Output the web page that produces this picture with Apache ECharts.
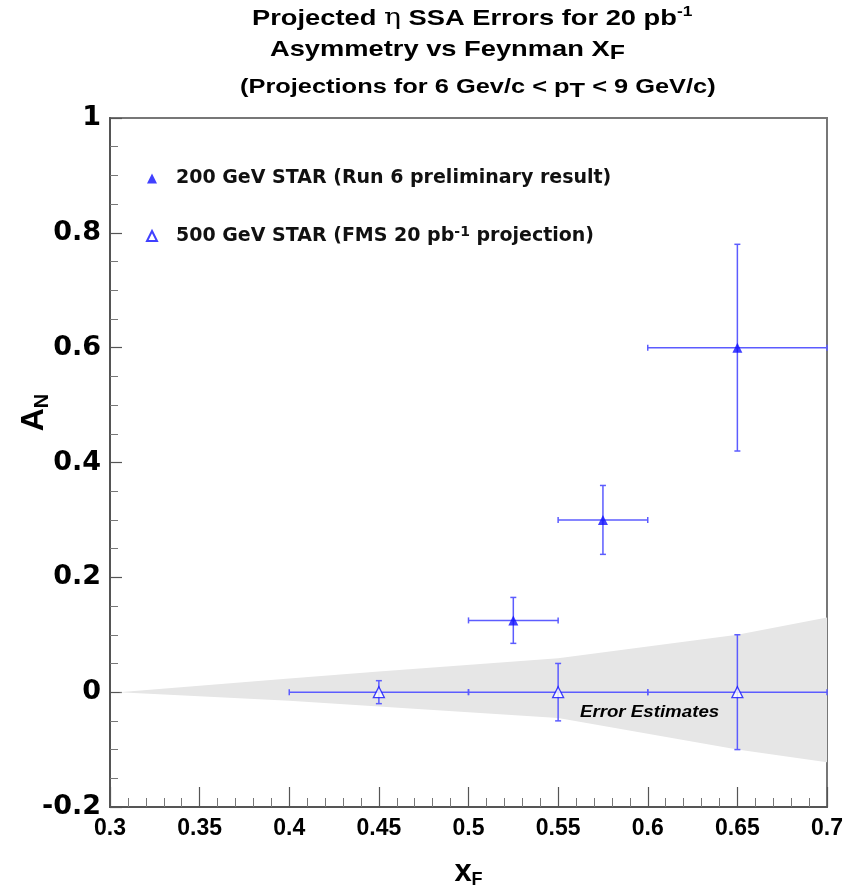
<!DOCTYPE html>
<html>
<head>
<meta charset="utf-8">
<title>Projected eta SSA Errors</title>
<script src="https://cdn.jsdelivr.net/npm/echarts@6/dist/echarts.min.js"></script>
<style>
  html, body { margin: 0; padding: 0; background: #fff; }
  #main { width: 851px; height: 894px; }
</style>
</head>
<body>
<div id="main"></div>
<script>
// 200 GeV STAR (Run 6 preliminary)
var star200X = [0.525, 0.575, 0.65];
var star200Y = [0.125, 0.30, 0.60];
var star200XLo = [0.50, 0.55, 0.60];
var star200XHi = [0.55, 0.60, 0.70];
var star200YErr = [0.04, 0.06, 0.18];

// 500 GeV STAR (FMS 20 pb-1 projection)
var star500X = [0.45, 0.55, 0.65];
var star500Y = [0, 0, 0];
var star500XLo = [0.40, 0.50, 0.60];
var star500XHi = [0.50, 0.60, 0.70];
var star500YErr = [0.02, 0.05, 0.10];

// grey error-estimate band
var bandX = [0.305, 0.40, 0.45, 0.55, 0.65, 0.70];
var bandUpper = [0, 0.024, 0.036, 0.059, 0.10, 0.13];
var bandLower = [0, -0.015, -0.025, -0.045, -0.10, -0.122];

var xTicks = ['0.3', '0.35', '0.4', '0.45', '0.5', '0.55', '0.6', '0.65', '0.7'];
var yTicks = ['-0.2', '0', '0.2', '0.4', '0.6', '0.8', '1'];

var name200 = '200 GeV STAR (Run 6 preliminary result)';
var name500 = '500 GeV STAR (FMS 20 pb-1 projection)';
var barColor = '#5c5cff';
var markColor = '#1010ff';

function zip(a, b, c, d, e) {
  var out = [];
  for (var i = 0; i < a.length; i++) {
    out.push([a[i], b[i], c[i], d[i], e[i]]);
  }
  return out;
}

function renderErrorBar(params, api) {
  var x = api.value(0), y = api.value(1);
  var xlo = api.value(2), xhi = api.value(3), e = api.value(4);
  var pl = api.coord([xlo, y]), pr = api.coord([xhi, y]);
  var pt = api.coord([x, y + e]), pb = api.coord([x, y - e]);
  var st = { stroke: barColor, lineWidth: 1.5 };
  var cap = 3;
  function seg(x1, y1, x2, y2) {
    return { type: 'line', shape: { x1: x1, y1: y1, x2: x2, y2: y2 }, style: st };
  }
  return {
    type: 'group',
    children: [
      seg(pl[0], pl[1], pr[0], pr[1]),
      seg(pl[0], pl[1] - cap, pl[0], pl[1] + cap),
      seg(pr[0], pr[1] - cap, pr[0], pr[1] + cap),
      seg(pt[0], pt[1], pb[0], pb[1]),
      seg(pt[0] - cap, pt[1], pt[0] + cap, pt[1]),
      seg(pb[0] - cap, pb[1], pb[0] + cap, pb[1])
    ]
  };
}

function renderBand(params, api) {
  if (params.dataIndex !== 0) return;
  var pts = [];
  for (var i = 0; i < bandX.length; i++) pts.push(api.coord([bandX[i], bandUpper[i]]));
  for (var j = bandX.length - 1; j >= 0; j--) pts.push(api.coord([bandX[j], bandLower[j]]));
  var tp = api.coord([0.601, -0.035]);
  return {
    type: 'group',
    children: [
      { type: 'polygon', shape: { points: pts }, style: { fill: '#e6e6e6' } },
      {
        type: 'text', x: tp[0], y: tp[1], scaleX: 1.1,
        style: {
          text: 'Error Estimates', fill: '#000', align: 'center', verticalAlign: 'middle',
          font: 'italic bold 17px "Liberation Sans", Arial, sans-serif'
        }
      }
    ]
  };
}

var chart = echarts.init(document.getElementById('main'), null, { renderer: 'canvas' });

var fontFam = '"Liberation Sans", Arial, Helvetica, sans-serif';
var wideFam = '"DejaVu Sans", "Liberation Sans", sans-serif';
var titleRich = {
  t: { fontSize: 22, fontWeight: 'bold', fontFamily: fontFam, color: '#000', lineHeight: 27 },
  g: { fontSize: 23, fontFamily: '"DejaVu Serif", serif', color: '#000', lineHeight: 27 },
  s: { fontSize: 20, fontWeight: 'bold', fontFamily: fontFam, color: '#000', lineHeight: 27 },
  sup: { fontSize: 14, fontWeight: 'bold', fontFamily: fontFam, color: '#000', lineHeight: 14, verticalAlign: 'top' },
  sub: { fontSize: 20, fontWeight: 'bold', fontFamily: fontFam, color: '#000', lineHeight: 16, verticalAlign: 'bottom' }
};

var option = {
  backgroundColor: '#fff',
  animation: false,
  graphic: [
    { type: 'text', x: 252, y: 5, scaleX: 1.24, style: { text: '{t|Projected }{g|η}{t| SSA Errors for 20 pb}{sup|-1}', rich: titleRich } },
    { type: 'text', x: 270, y: 36, scaleX: 1.24, style: { text: '{t|Asymmetry vs Feynman X}{sub|F}', rich: titleRich } },
    { type: 'text', x: 240, y: 74, scaleX: 1.27, style: { text: '{s|(Projections for 6 Gev/c < p}{sub|T}{s| < 9 GeV/c)}', rich: titleRich } }
  ],
  legend: {
    orient: 'vertical',
    left: 141,
    top: 164,
    itemWidth: 10,
    itemHeight: 10,
    itemGap: 37,
    data: [
      { name: name200, icon: 'triangle' },
      { name: name500, icon: 'triangle' }
    ],
    formatter: function (n) {
      if (n === name500) return '{t|500 GeV STAR (FMS 20 pb}{sup|-1}{t| projection)}';
      return '{t|' + n + '}';
    },
    textStyle: {
      padding: [0, 0, 0, 14],
      rich: {
        t: { fontSize: 19, fontWeight: 'bold', fontFamily: wideFam, color: '#111', lineHeight: 22 },
        sup: { fontSize: 14, fontWeight: 'bold', fontFamily: wideFam, color: '#111', lineHeight: 12, verticalAlign: 'top' }
      }
    }
  },
  grid: {
    left: 110, right: 24, top: 118, bottom: 87,
    containLabel: false,
    outerBoundsMode: 'none',
    show: true, borderColor: '#777', borderWidth: 2, backgroundColor: '#fff'
  },
  xAxis: {
    type: 'value',
    min: 0.3, max: 0.7, interval: 0.05,
    name: '{a|x}{b|F}',
    nameLocation: 'middle',
    nameGap: 48,
    nameMoveOverlap: false,
    nameTextStyle: {
      rich: {
        a: { fontSize: 31, fontWeight: 'bold', fontFamily: fontFam, color: '#000', lineHeight: 34 },
        b: { fontSize: 18, fontWeight: 'bold', fontFamily: fontFam, color: '#000', lineHeight: 18, verticalAlign: 'bottom' }
      }
    },
    axisLine: { onZero: false, lineStyle: { color: '#555', width: 2 } },
    axisTick: { inside: true, length: 20, lineStyle: { color: '#555', width: 1.2 } },
    minorTick: { show: true, splitNumber: 5, length: 9, lineStyle: { color: '#777', width: 1 } },
    splitLine: { show: false },
    axisLabel: {
      margin: 10,
      fontSize: 23, fontWeight: 'bold', fontFamily: fontFam, color: '#000',
      formatter: function (v) {
        var s = xTicks.filter(function (t) { return Math.abs(parseFloat(t) - v) < 1e-6; });
        return s.length ? s[0] : '';
      }
    }
  },
  yAxis: {
    type: 'value',
    min: -0.2, max: 1, interval: 0.2,
    name: '{a|A}{b|N}',
    nameLocation: 'middle',
    nameRotate: 90,
    nameGap: 58,
    nameMoveOverlap: false,
    nameTextStyle: {
      padding: [0, 0, 0, 100],
      rich: {
        a: { fontSize: 32, fontWeight: 'bold', fontFamily: fontFam, color: '#000', lineHeight: 36 },
        b: { fontSize: 20, fontWeight: 'bold', fontFamily: fontFam, color: '#000', lineHeight: 20, verticalAlign: 'bottom' }
      }
    },
    axisLine: { onZero: false, lineStyle: { color: '#555', width: 2 } },
    axisTick: { inside: true, length: 12, lineStyle: { color: '#555', width: 1.2 } },
    minorTick: { show: true, splitNumber: 4, length: 8, lineStyle: { color: '#777', width: 1 } },
    splitLine: { show: false },
    axisLabel: {
      margin: 9,
      fontSize: 27, fontWeight: 'bold', fontFamily: wideFam, color: '#000',
      formatter: function (v) {
        var s = yTicks.filter(function (t) { return Math.abs(parseFloat(t) - v) < 1e-6; });
        return s.length ? s[0] : '';
      }
    }
  },
  series: [
    {
      type: 'custom',
      name: 'band',
      renderItem: renderBand,
      data: [[bandX[0], bandUpper[0]]],
      silent: true,
      z: 1
    },
    {
      type: 'custom',
      name: 'err500',
      renderItem: renderErrorBar,
      data: zip(star500X, star500Y, star500XLo, star500XHi, star500YErr),
      silent: true,
      z: 2
    },
    {
      type: 'custom',
      name: 'err200',
      renderItem: renderErrorBar,
      data: zip(star200X, star200Y, star200XLo, star200XHi, star200YErr),
      silent: true,
      z: 2
    },
    {
      type: 'scatter',
      name: name200,
      symbol: 'triangle',
      symbolSize: 10,
      itemStyle: { color: markColor },
      data: star200X.map(function (x, i) { return [x, star200Y[i]]; }),
      z: 3
    },
    {
      type: 'scatter',
      name: name500,
      symbol: 'triangle',
      symbolSize: 11,
      itemStyle: { color: '#fff', borderColor: markColor, borderWidth: 1.3 },
      data: star500X.map(function (x, i) { return [x, star500Y[i]]; }),
      z: 3
    }
  ]
};

chart.setOption(option);
window.addEventListener('resize', function () {
  chart.resize();
});
</script>
</body>
</html>
